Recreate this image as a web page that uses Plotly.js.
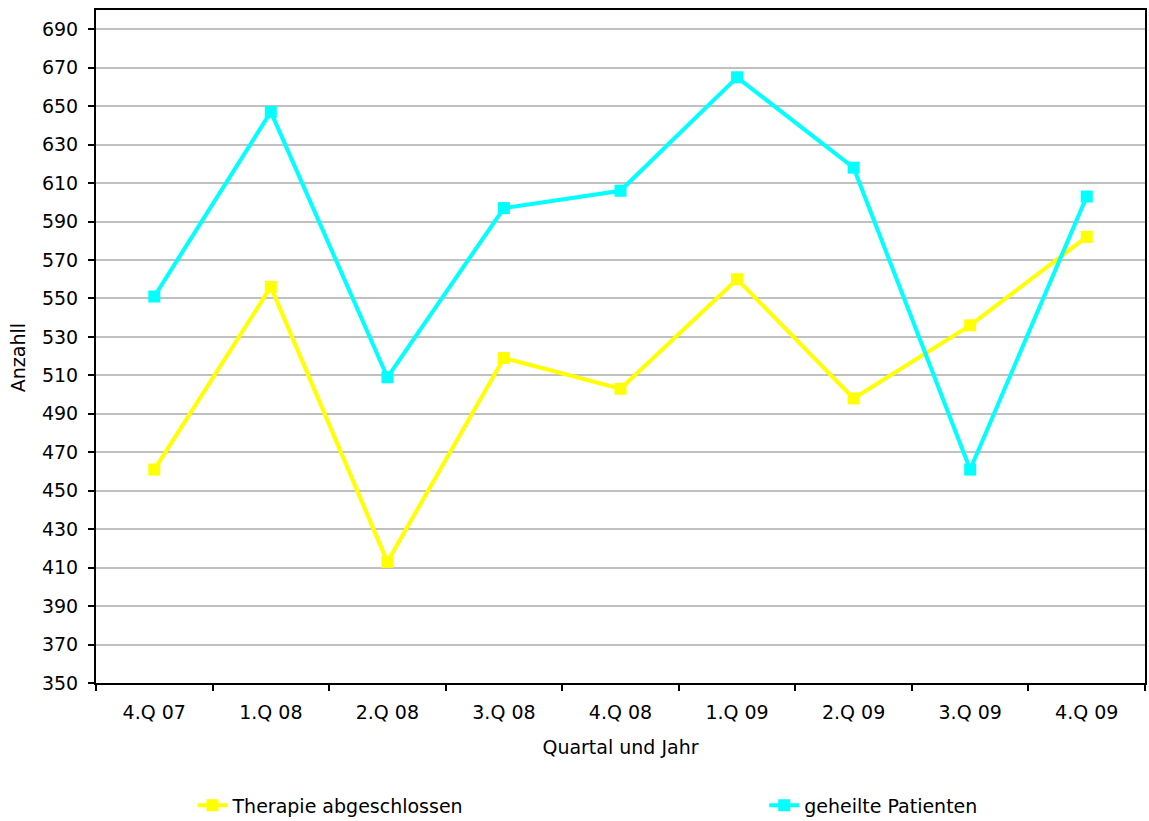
<!DOCTYPE html>
<html>
<head>
<meta charset="utf-8">
<script src="https://cdn.plot.ly/plotly-3.0.1.min.js"></script>
<style>html,body{margin:0;padding:0;background:#fff;}#chart{width:1149px;height:821px;}</style>
</head>
<body>
<div id="chart"></div>
<script>
var quarters = ["4.Q 07", "1.Q 08", "2.Q 08", "3.Q 08", "4.Q 08", "1.Q 09", "2.Q 09", "3.Q 09", "4.Q 09"];
var therapieAbgeschlossen = [461, 556, 413, 519, 503, 560, 498, 536, 582];
var geheiltePatienten = [551, 647, 509, 597, 606, 665, 618, 461, 603];
var yTicks = [350, 370, 390, 410, 430, 450, 470, 490, 510, 530, 550, 570, 590, 610, 630, 650, 670, 690];

var FONT = "DejaVu Sans, Liberation Sans, Arial, sans-serif";
var FS = 19;

var traces = [
  {
    x: quarters, y: therapieAbgeschlossen, type: "scatter", mode: "lines+markers",
    name: "Therapie abgeschlossen",
    line: {color: "#FFFF00", width: 4},
    marker: {color: "#FFFF00", symbol: "square", size: 12},
    legend: "legend"
  },
  {
    x: quarters, y: geheiltePatienten, type: "scatter", mode: "lines+markers",
    name: "geheilte Patienten",
    line: {color: "#00FFFF", width: 4},
    marker: {color: "#00FFFF", symbol: "square", size: 12},
    legend: "legend2"
  }
];

var layout = {
  width: 1149, height: 821,
  margin: {l: 96, r: 4, t: 10, b: 138, autoexpand: false},
  paper_bgcolor: "#ffffff",
  plot_bgcolor: "#ffffff",
  font: {family: FONT, size: FS, color: "#000000"},
  showlegend: true,
  xaxis: {
    type: "category",
    range: [-0.5, 8.5],
    automargin: false,
    showline: true, linecolor: "#000000", linewidth: 2, mirror: true,
    ticks: "outside", ticklen: 6, tickwidth: 2, tickcolor: "#000000",
    tickson: "boundaries",
    showgrid: false, zeroline: false,
    tickfont: {family: FONT, size: FS},
    ticklabelstandoff: 11,
    title: {text: "Quartal und Jahr", font: {family: FONT, size: FS}, standoff: 19}
  },
  yaxis: {
    range: [350, 700],
    automargin: false,
    tickvals: yTicks,
    ticktext: yTicks.map(String),
    showline: true, linecolor: "#000000", linewidth: 2, mirror: true,
    ticks: "outside", ticklen: 6, tickwidth: 2, tickcolor: "#000000",
    showgrid: true, gridcolor: "#c0c0c0", gridwidth: 2,
    zeroline: false,
    tickfont: {family: FONT, size: FS},
    ticklabelstandoff: 6
  },
  annotations: [{
    text: "Anzahll", textangle: -90, showarrow: false,
    xref: "paper", yref: "paper", x: -0.0744, y: 0.484,
    xanchor: "center", yanchor: "middle",
    font: {family: FONT, size: FS, color: "#000000"}
  }],
  legend: {
    x: 0.092, y: -0.182, xanchor: "left", yanchor: "middle",
    orientation: "h", bgcolor: "rgba(0,0,0,0)",
    font: {family: FONT, size: FS}
  },
  legend2: {
    x: 0.637, y: -0.182, xanchor: "left", yanchor: "middle",
    orientation: "h", bgcolor: "rgba(0,0,0,0)",
    font: {family: FONT, size: FS}
  }
};

Plotly.newPlot("chart", traces, layout, {displayModeBar: false, staticPlot: true});
</script>
</body>
</html>
